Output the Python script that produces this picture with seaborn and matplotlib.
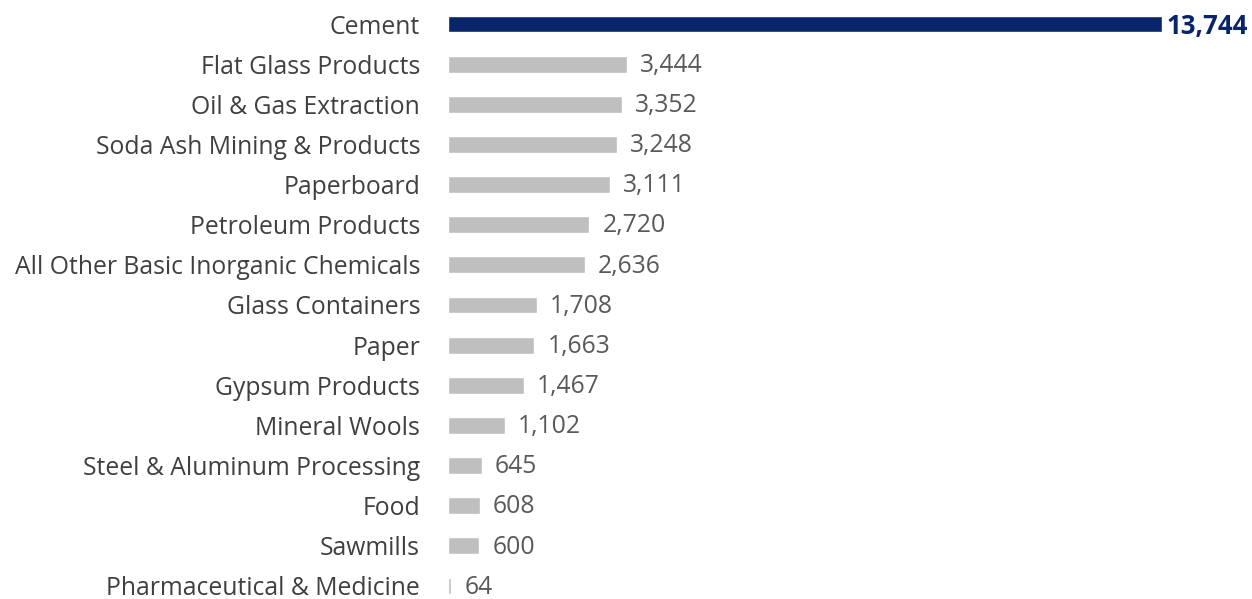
import matplotlib
matplotlib.use("Agg")
import matplotlib.pyplot as plt
import seaborn as sns
import pandas as pd

categories = [
    "Cement", "Flat Glass Products", "Oil & Gas Extraction", "Soda Ash Mining & Products",
    "Paperboard", "Petroleum Products", "All Other Basic Inorganic Chemicals",
    "Glass Containers", "Paper", "Gypsum Products", "Mineral Wools",
    "Steel & Aluminum Processing", "Food", "Sawmills", "Pharmaceutical & Medicine",
]
values = [13744, 3444, 3352, 3248, 3111, 2720, 2636, 1708, 1663, 1467, 1102, 645, 608, 600, 64]

NAVY = "#08256a"
GREY = "#bfbfbf"

sns.set_theme(style="white")
plt.rcParams["font.family"] = ["Open Sans", "DejaVu Sans"]

df = pd.DataFrame({"category": categories, "value": values})
palette = {c: (NAVY if i == 0 else GREY) for i, c in enumerate(categories)}

fig = plt.figure(figsize=(12.52, 5.99), dpi=100)
ax = fig.add_axes([448 / 1252, 0, (1252 - 448) / 1252, 1])
sns.barplot(data=df, y="category", x="value", hue="category", palette=palette,
            order=categories, width=0.42, legend=False, ax=ax, saturation=1)

ax.set_xlim(0, 13744 * (1252 - 448) / 714)
ax.set_ylim(14.325, -0.598)
ax.set_xlabel("")
ax.set_ylabel("")
ax.set_xticks([])
for s in ax.spines.values():
    s.set_visible(False)
ax.tick_params(axis="y", length=0, pad=20, labelsize=17.8, labelcolor="#404040")

for i, (c, v) in enumerate(zip(categories, values)):
    if i == 0:
        ax.text(v + 90, i + 0.05, f"{v:,}", va="center", ha="left", fontsize=18.5,
                fontweight="bold", color=NAVY)
    else:
        ax.text(v + 250, i + 0.03, f"{v:,}", va="center", ha="left", fontsize=17.8,
                color="#595959")

fig.savefig("out.png", dpi=100)
